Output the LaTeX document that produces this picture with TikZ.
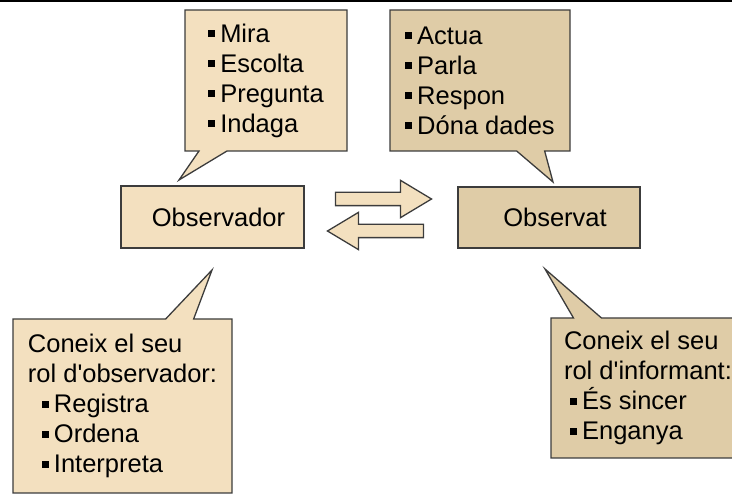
\documentclass[tikz,border=0pt]{standalone}
\usepackage{fontspec}
\setmainfont{Liberation Sans}
\usetikzlibrary{shapes.callouts,shapes.arrows}

\definecolor{lightbeige}{RGB}{243,224,191}
\definecolor{darkbeige}{RGB}{223,204,167}
\definecolor{edge}{RGB}{60,60,60}
\newcommand{\itm}{\raisebox{5pt}{\rule{7pt}{7pt}}\hspace{5pt}}

\begin{document}
\begin{tikzpicture}[x=1pt,y=-1pt,
    txt/.style={font=\fontsize{25.5}{30}\selectfont},
    box/.style={draw=edge, line width=1.3pt, txt, inner sep=0pt},
    talk/.style={rectangle callout, box, align=left, callout pointer width=28pt},
    blockarrow/.style={single arrow, draw=edge, line width=1.3pt, fill=lightbeige, inner xsep=0pt, inner ysep=6pt,
        minimum height=96pt, single arrow head extend=12pt, single arrow tip angle=62}]
    \clip (0,0) rectangle (732,494);
    \fill[black] (0,0) rectangle (732,2.5);
    % the two roles
    \node[box, fill=lightbeige, minimum width=183pt, minimum height=62pt] (obsr) at (212.5,217) {\hspace*{12pt}Observador};
    \node[box, fill=darkbeige, minimum width=182pt, minimum height=61pt] (obst) at (549,217.5) {\hspace*{12pt}Observat};
    % exchange between them
    \node[blockarrow, shape border rotate=0] (ab) at (378,199) {};
    \node[blockarrow, shape border rotate=180] (ba) at (381,231) {};
    % what each one does
    \node[talk, fill=lightbeige, minimum width=162pt, minimum height=141pt,
        callout absolute pointer={(179,180)}] (obsr-do) at (266,80.5)
        {\itm Mira\\ \itm Escolta\\ \itm Pregunta\\ \itm Indaga};
    \node[talk, fill=darkbeige, minimum width=180pt, minimum height=141pt,
        callout absolute pointer={(553,182)}] (obst-do) at (480,80.5)
        {\itm Actua\\ \itm Parla\\ \itm Respon\\ \itm Dóna dades};
    % what each one knows
    \node[talk, fill=lightbeige, minimum width=219pt, minimum height=174pt,
        callout absolute pointer={(212,270)}] (obsr-rol) at (122.5,406)
        {Coneix el seu\\ rol d\textquotesingle observador:\\ \hspace*{14pt}\itm Registra\\ \hspace*{14pt}\itm Ordena\\ \hspace*{14pt}\itm Interpreta};
    \node[talk, fill=darkbeige, minimum width=194pt, minimum height=140pt,
        callout absolute pointer={(545,269)}] (obst-rol) at (648,388)
        {Coneix el seu\\ rol d\textquotesingle informant:\\ \hspace*{6pt}\itm És sincer\\ \hspace*{6pt}\itm Enganya};
\end{tikzpicture}
\end{document}
